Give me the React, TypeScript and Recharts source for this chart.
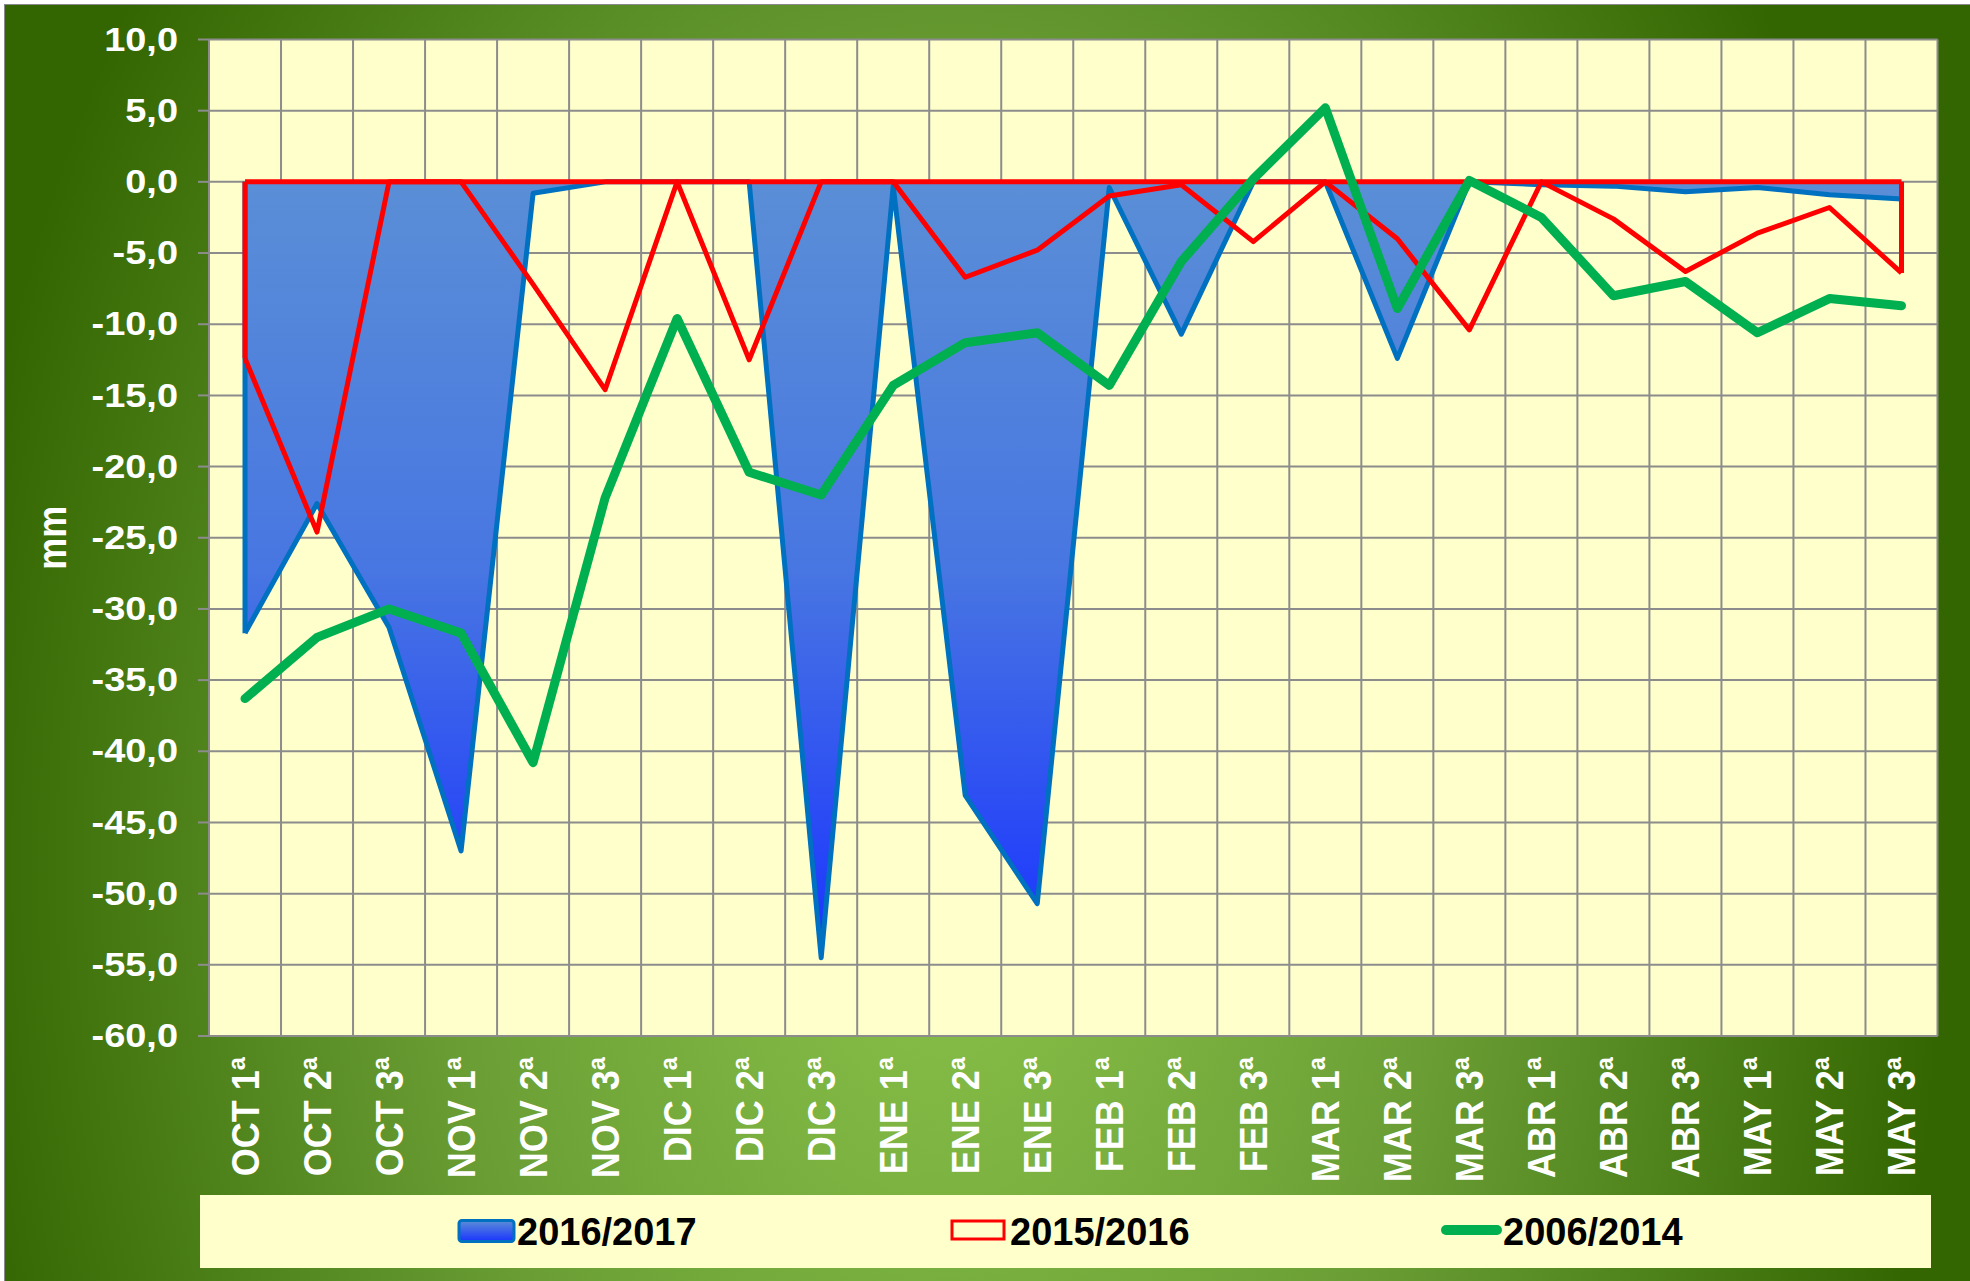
import React from 'react';
import { ComposedChart, Area, Line, XAxis, YAxis, CartesianGrid, ReferenceLine } from 'recharts';

const categories = [
  'OCT 1ª', 'OCT 2ª', 'OCT 3ª', 'NOV 1ª', 'NOV 2ª', 'NOV 3ª',
  'DIC 1ª', 'DIC 2ª', 'DIC 3ª', 'ENE 1ª', 'ENE 2ª', 'ENE 3ª',
  'FEB 1ª', 'FEB 2ª', 'FEB 3ª', 'MAR 1ª', 'MAR 2ª', 'MAR 3ª',
  'ABR 1ª', 'ABR 2ª', 'ABR 3ª', 'MAY 1ª', 'MAY 2ª', 'MAY 3ª',
];

// 2016/2017 (area, blue)
const season1617 = [
  -31.7, -22.6, -31.3, -47.0, -0.8, 0, 0, 0, -54.5, -0.3, -43.1, -50.7,
  -0.4, -10.7, 0, 0, -12.4, 0, -0.2, -0.3, -0.7, -0.4, -0.9, -1.2,
];

// 2015/2016 (area, red outline)
const season1516 = [
  -12.4, -24.6, 0, 0, -7.2, -14.6, 0, -12.5, 0, 0, -6.7, -4.8,
  -1.0, -0.2, -4.2, 0, -4.0, -10.4, 0, -2.6, -6.3, -3.6, -1.8, -6.4,
];

// 2006/2014 (line, green)
const avg0614 = [
  -36.3, -32.0, -30.0, -31.7, -40.8, -22.2, -9.6, -20.4, -22.0, -14.3, -11.3, -10.6,
  -14.3, -5.6, 0.2, 5.2, -8.9, 0.1, -2.5, -8.0, -7.0, -10.6, -8.2, -8.7,
];

const yTicks = [10, 5, 0, -5, -10, -15, -20, -25, -30, -35, -40, -45, -50, -55, -60];

const legendItems = ['2016/2017', '2015/2016', '2006/2014'];

const data = categories.map((cat, i) => ({
  cat,
  s1617: season1617[i],
  s1516: season1516[i],
  s0614: avg0614[i],
}));

const FONT = '"Liberation Sans", Arial, sans-serif';
const BLUE = '#0070C0';
const RED = '#FF0000';
const GREEN = '#00B050';
const first = categories[0];
const last = categories[categories.length - 1];

const CategoryTick = (props: any) => {
  const { x, y, payload } = props;
  return (
    <text
      transform={`translate(${x},${y + 21}) rotate(-90) scale(1,1.08)`}
      textAnchor="end"
      dominantBaseline="central"
      fill="#fff"
      fontSize={36}
      fontWeight="bold"
      fontFamily={FONT}
    >
      {payload.value}
    </text>
  );
};

const fmt = (v: number) => v.toFixed(1).replace('.', ',');

const ValueTick = (props: any) => {
  const { x, y, payload } = props;
  return (
    <text
      transform={`translate(${x},${y}) scale(1.15,1)`}
      textAnchor="end"
      dominantBaseline="central"
      fill="#fff"
      fontSize={33}
      fontWeight="bold"
      fontFamily={FONT}
    >
      {fmt(payload.value)}
    </text>
  );
};

const MmLabel = (props: any) => {
  const vb = props.viewBox || { x: 0, y: 0, height: 0 };
  const cx = vb.x + 47;
  const cy = vb.y + vb.height / 2;
  return (
    <text
      transform={`translate(${cx},${cy}) rotate(-90) scale(1,1.12)`}
      textAnchor="middle"
      dominantBaseline="central"
      fill="#fff"
      fontSize={36}
      fontWeight="bold"
      fontFamily={FONT}
    >
      mm
    </text>
  );
};

const Legend = () => (
  <svg
    width={1731}
    height={73}
    style={{ position: 'absolute', left: 200, top: 1195, background: '#FFFFCC' }}
  >
    <defs>
      <linearGradient id="legendBlue" x1="0" y1="0" x2="0" y2="1">
        <stop offset="0%" stopColor="#5A8ED6" />
        <stop offset="100%" stopColor="#1A33FF" />
      </linearGradient>
    </defs>
    <rect x={259} y={25.5} width={55} height={21} rx={3} fill="url(#legendBlue)" stroke={BLUE} strokeWidth={3} />
    <text x={317} y={50} fontSize={38} fontWeight="bold" fontFamily={FONT} fill="#000">{legendItems[0]}</text>
    <rect x={752} y={26} width={52} height={18} fill="#FFFFCC" stroke={RED} strokeWidth={3} />
    <text x={810} y={50} fontSize={38} fontWeight="bold" fontFamily={FONT} fill="#000">{legendItems[1]}</text>
    <line x1={1246} y1={35} x2={1297} y2={35} stroke={GREEN} strokeWidth={10} strokeLinecap="round" />
    <text x={1303} y={50} fontSize={38} fontWeight="bold" fontFamily={FONT} fill="#000">{legendItems[2]}</text>
  </svg>
);

const App: React.FC = () => {
  return (
    <div style={{ position: 'absolute', left: 0, top: 0, width: 1970, height: 1281, background: '#fff', overflow: 'hidden' }}>
      <div style={{ position: 'absolute', left: 4, top: 4, width: 1966, height: 1277, background: '#8a8a8a' }}>
        <div
          style={{
            position: 'absolute',
            left: 1,
            top: 1,
            width: 1965,
            height: 1276,
            background:
              'radial-gradient(ellipse 1000px 1500px at 940px 860px, #8BC34A 0%, #6A9E35 50%, #336600 100%)',
          }}
        >
          <ComposedChart
            width={1965}
            height={1276}
            data={data}
            margin={{ top: 34.5, right: 32.5, bottom: 0, left: 0 }}
          >
            <defs>
              <linearGradient id="blueFill" x1="0" y1="0" x2="0" y2="1">
                <stop offset="0%" stopColor="#5A8ED6" />
                <stop offset="50%" stopColor="#4876E2" />
                <stop offset="100%" stopColor="#1A33FF" />
              </linearGradient>
            </defs>
            <CartesianGrid
              fill="#FFFFCC"
              fillOpacity={1}
              stroke="#8c8c8c"
              strokeWidth={2}
              verticalCoordinatesGenerator={({ offset }: any) =>
                Array.from({ length: categories.length + 1 }, (_, i) => offset.left + (i * offset.width) / categories.length)
              }
            />
            <XAxis
              dataKey="cat"
              scale="band"
              interval={0}
              height={245}
              tickSize={0}
              tickMargin={0}
              tickLine={false}
              axisLine={{ stroke: '#8c8c8c', strokeWidth: 2 }}
              tick={<CategoryTick />}
            />
            <YAxis
              type="number"
              domain={[-60, 10]}
              ticks={yTicks}
              interval={0}
              width={204}
              tickSize={11}
              tickMargin={20}
              tickLine={{ stroke: '#8c8c8c', strokeWidth: 2 }}
              axisLine={{ stroke: '#8c8c8c', strokeWidth: 2 }}
              tick={<ValueTick />}
              label={MmLabel}
            />
            <Area
              type="linear"
              dataKey="s1617"
              baseValue={0}
              stroke={BLUE}
              strokeWidth={5}
              strokeLinejoin="round"
              fill="url(#blueFill)"
              fillOpacity={1}
              dot={false}
              activeDot={false}
              isAnimationActive={false}
              zIndex={100}
            />
            <ReferenceLine segment={[{ x: first, y: 0 }, { x: first, y: season1617[0] }]} stroke={BLUE} strokeWidth={5} zIndex={110} />
            <ReferenceLine segment={[{ x: last, y: 0 }, { x: last, y: season1617[season1617.length - 1] }]} stroke={BLUE} strokeWidth={5} zIndex={110} />
            <Area
              type="linear"
              dataKey="s1516"
              baseValue={0}
              stroke={RED}
              strokeWidth={5}
              strokeLinejoin="round"
              fill="none"
              fillOpacity={0}
              dot={false}
              activeDot={false}
              isAnimationActive={false}
              zIndex={120}
            />
            <ReferenceLine segment={[{ x: first, y: 0 }, { x: last, y: 0 }]} stroke={RED} strokeWidth={5} zIndex={130} />
            <ReferenceLine segment={[{ x: first, y: 0 }, { x: first, y: season1516[0] }]} stroke={RED} strokeWidth={5} zIndex={130} />
            <ReferenceLine segment={[{ x: last, y: 0 }, { x: last, y: season1516[season1516.length - 1] }]} stroke={RED} strokeWidth={5} zIndex={130} />
            <Line
              type="linear"
              dataKey="s0614"
              stroke={GREEN}
              strokeWidth={9}
              strokeLinejoin="round"
              strokeLinecap="round"
              dot={false}
              activeDot={false}
              isAnimationActive={false}
              zIndex={400}
            />
          </ComposedChart>
        </div>
      </div>
      <Legend />
    </div>
  );
};

export default App;
